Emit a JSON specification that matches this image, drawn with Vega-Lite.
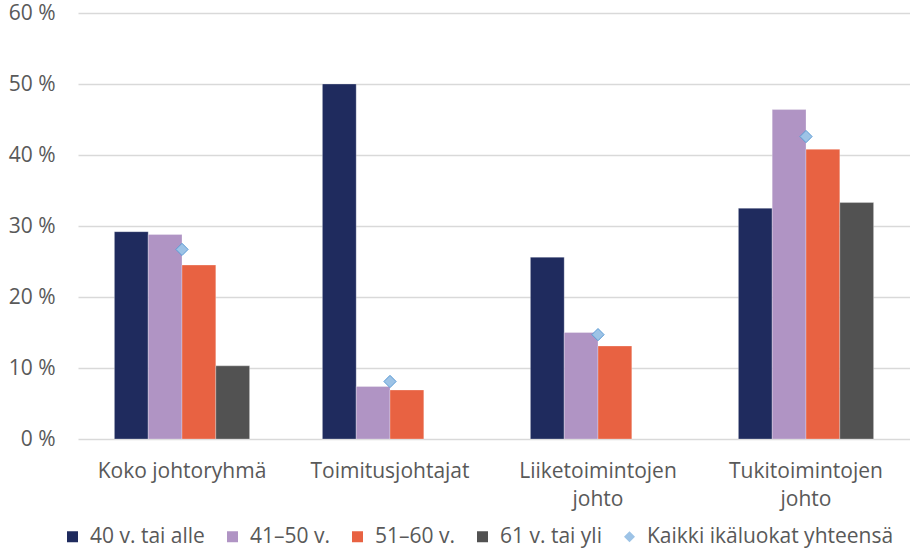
{
  "$schema": "https://vega.github.io/schema/vega-lite/v6.json",
  "autosize": {"type": "none"},
  "width": 832,
  "height": 426,
  "padding": {"left": 78, "top": 13, "right": 0, "bottom": 111},
  "background": "white",
  "config": {
    "view": {"stroke": null},
    "font": "Open Sans",
    "axis": {"labelFont": "Open Sans", "labelColor": "#595959", "labelFontSize": 21, "ticks": false, "domain": false},
    "legend": {"labelFont": "Open Sans", "labelColor": "#595959", "labelFontSize": 21, "labelLimit": 400}
  },
  "data": {
    "values": [
      {"group": "Koko johtoryhmä", "series": "40 v. tai alle", "value": 29.2},
      {"group": "Koko johtoryhmä", "series": "41–50 v.", "value": 28.8},
      {"group": "Koko johtoryhmä", "series": "51–60 v.", "value": 24.5},
      {"group": "Koko johtoryhmä", "series": "61 v. tai yli", "value": 10.3},
      {"group": "Koko johtoryhmä", "series": "Kaikki ikäluokat yhteensä", "value": 26.7},
      {"group": "Toimitusjohtajat", "series": "40 v. tai alle", "value": 50.0},
      {"group": "Toimitusjohtajat", "series": "41–50 v.", "value": 7.4},
      {"group": "Toimitusjohtajat", "series": "51–60 v.", "value": 6.9},
      {"group": "Toimitusjohtajat", "series": "Kaikki ikäluokat yhteensä", "value": 8.1},
      {"group": "Liiketoimintojen johto", "series": "40 v. tai alle", "value": 25.6},
      {"group": "Liiketoimintojen johto", "series": "41–50 v.", "value": 15.0},
      {"group": "Liiketoimintojen johto", "series": "51–60 v.", "value": 13.1},
      {"group": "Liiketoimintojen johto", "series": "Kaikki ikäluokat yhteensä", "value": 14.7},
      {"group": "Tukitoimintojen johto", "series": "40 v. tai alle", "value": 32.5},
      {"group": "Tukitoimintojen johto", "series": "41–50 v.", "value": 46.4},
      {"group": "Tukitoimintojen johto", "series": "51–60 v.", "value": 40.8},
      {"group": "Tukitoimintojen johto", "series": "61 v. tai yli", "value": 33.3},
      {"group": "Tukitoimintojen johto", "series": "Kaikki ikäluokat yhteensä", "value": 42.6}
    ]
  },
  "encoding": {
    "x": {
      "field": "group", "type": "nominal", "title": null,
      "sort": ["Koko johtoryhmä", "Toimitusjohtajat", "Liiketoimintojen johto", "Tukitoimintojen johto"],
      "scale": {"paddingInner": 0.35, "paddingOuter": 0.175},
      "axis": {
        "labelAngle": 0, "labelPadding": 21, "labelLineHeight": 28, "labelBaseline": "top",
        "labelExpr": "indexof(datum.label, 'toimintojen') > 0 ? split(datum.label, ' ') : datum.label",
        "grid": false, "domain": false
      }
    },
    "y": {
      "field": "value", "type": "quantitative", "title": null,
      "scale": {"domain": [0, 60]},
      "axis": {"values": [0, 10, 20, 30, 40, 50, 60], "labelExpr": "datum.value + ' %'", "labelPadding": 23, "gridColor": "#d9d9d9", "gridWidth": 1.3}
    },
    "color": {
      "field": "series", "type": "nominal", "title": null,
      "scale": {
        "domain": ["40 v. tai alle", "41–50 v.", "51–60 v.", "61 v. tai yli", "Kaikki ikäluokat yhteensä"],
        "range": ["#1f2b5e", "#b094c4", "#e86242", "#525252", "#9dc3e6"]
      },
      "legend": {
        "orient": "none", "direction": "horizontal", "legendX": -16, "legendY": 513,
        "symbolSize": 121, "symbolStrokeWidth": 0, "labelOffset": 7, "columnPadding": 17,
        "symbolOpacity": 1
      }
    }
  },
  "layer": [
    {
      "transform": [{"filter": "datum.series !== 'Kaikki ikäluokat yhteensä'"}],
      "mark": {"type": "bar", "stroke": "white", "strokeOpacity": 0.35, "strokeWidth": 0.8},
      "encoding": {
        "xOffset": {"field": "series", "type": "nominal", "scale": {"domain": ["40 v. tai alle", "41–50 v.", "51–60 v.", "61 v. tai yli"], "paddingInner": 0, "paddingOuter": 0}}
      }
    },
    {
      "transform": [{"filter": "datum.series === 'Kaikki ikäluokat yhteensä'"}],
      "mark": {"type": "point", "filled": true, "size": 150, "stroke": "#5b9bd5", "strokeWidth": 1, "opacity": 1},
      "encoding": {
        "shape": {
          "field": "series", "type": "nominal", "title": null,
          "scale": {
            "domain": ["40 v. tai alle", "41–50 v.", "51–60 v.", "61 v. tai yli", "Kaikki ikäluokat yhteensä"],
            "range": ["square", "square", "square", "square", "diamond"]
          }
        }
      }
    }
  ]
}
